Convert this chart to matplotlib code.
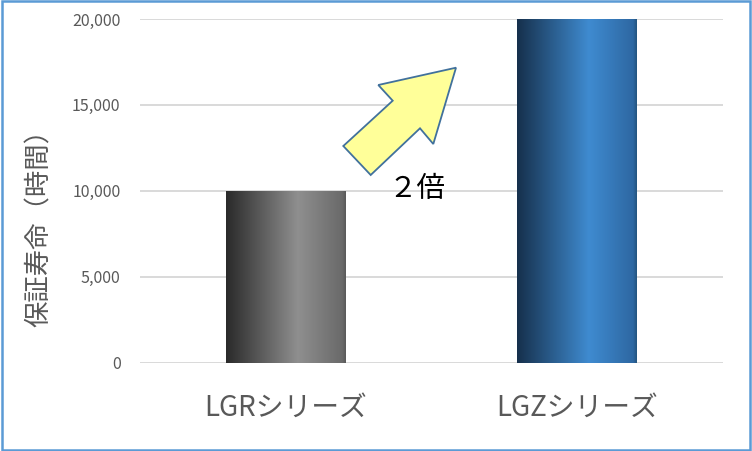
import numpy as np
import matplotlib
matplotlib.use("Agg")
import matplotlib.pyplot as plt
from matplotlib.colors import LinearSegmentedColormap
from matplotlib.patches import Polygon, Rectangle

plt.rcParams['font.family'] = ['Noto Sans CJK JP', 'DejaVu Sans']

# --- DATA ---
categories = ["LGRシリーズ", "LGZシリーズ"]
life_hours = [10000, 20000]
y_ticks = [0, 5000, 10000, 15000, 20000]
y_label = "保証寿命（時間）"
note_text = "２倍"

# --- STYLE ---
GRID = "#d9d9d9"
TEXT = "#595959"
bar_cmaps = [
    LinearSegmentedColormap.from_list("gray_bar", [(0, "#2a2a2a"), (0.6, "#8f8f8f"), (0.97, "#6a6a6a"), (1, "#5a5a5a")]),
    LinearSegmentedColormap.from_list("blue_bar", [(0, "#16304c"), (0.6, "#3f8bd0"), (0.97, "#2e68a3"), (1, "#24557f")]),
]

fig = plt.figure(figsize=(7.52, 4.51), dpi=100)
ax = fig.add_axes([0.1862, 0.1958, 0.7749, 0.7621])

x = np.arange(len(categories))
bars = ax.bar(x, life_hours, width=0.41, color="none", zorder=3)

# gradient fill for each bar
grad = np.linspace(0, 1, 256).reshape(1, -1)
for b, cm in zip(bars, bar_cmaps):
    x0, w, h = b.get_x(), b.get_width(), b.get_height()
    ax.imshow(grad, cmap=cm, aspect="auto", extent=(x0, x0 + w, 0, h),
              zorder=3, interpolation="bilinear")

ax.set_xlim(-0.5, len(categories) - 0.5)
ax.set_ylim(0, 20000)
ax.set_yticks(y_ticks)
ax.set_yticklabels([f"{v:,}" for v in y_ticks], color=TEXT, fontsize=11.5)
ax.set_xticks(x)
ax.set_xticklabels(categories, color=TEXT, fontsize=20)
ax.tick_params(axis="both", length=0)
ax.tick_params(axis="y", pad=14)
ax.tick_params(axis="x", pad=22)
ax.grid(axis="y", color=GRID, linewidth=1.4, zorder=0)
ax.set_axisbelow(True)
for s in ax.spines.values():
    s.set_visible(False)
ax.set_ylabel(y_label, color=TEXT, fontsize=19)
ax.yaxis.set_label_coords(-0.149, 0.41)

# arrow callout (figure pixel fractions)
W, H = 752, 451
arrow_px = [(456, 67.7), (378.3, 85), (392.7, 100.7), (343.3, 146),
            (370.7, 175), (420, 128.3), (433.3, 144)]
arrow = Polygon([(px / W, 1 - py / H) for px, py in arrow_px], closed=True,
                transform=fig.transFigure, facecolor="#ffff99",
                edgecolor="#41719c", linewidth=1.3, zorder=5)
fig.patches.append(arrow)
fig.text(417 / W, 1 - 189 / H, note_text, ha="center", va="center",
         fontsize=20.5, color="black")

# outer border
fig.patches.append(Rectangle((0.002, 0.003), 0.996, 0.994, transform=fig.transFigure,
                             fill=False, edgecolor="#5b9bd5", linewidth=1.8))

fig.savefig("out.png", dpi=100)
